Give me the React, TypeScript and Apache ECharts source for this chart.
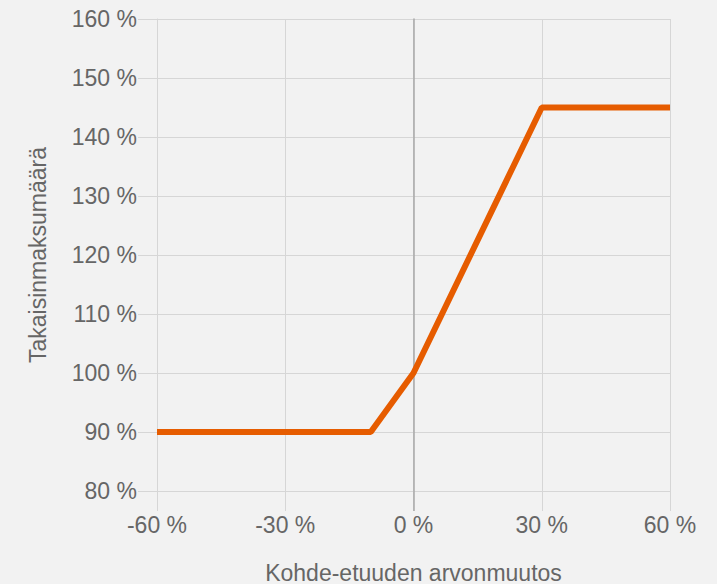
import React, { useEffect, useRef } from "react";
import * as echarts from "echarts";

const changeValues = [-60, -10, 0, 30, 60];
const payoutValues = [90, 90, 100, 145, 145];
const xTicks = { min: -60, max: 60, interval: 30 };
const yTicks = { min: 80, max: 160, interval: 10 };
const xName = "Kohde-etuuden arvonmuutos";
const yName = "Takaisinmaksumäärä";

const FONT = "'Liberation Sans', Arial, sans-serif";
const TEXT = "#666666";
const GRID = "#d6d6d6";
const ZERO = "#a8a8a8";

export default function App() {
  const ref = useRef<HTMLDivElement>(null);
  useEffect(() => {
    document.body.style.margin = "0";
    const chart = echarts.init(ref.current!, null, { renderer: "svg" });
    const pct = (v: number) => `${v} %`;
    chart.setOption({
      animation: false,
      backgroundColor: "#f2f2f2",
      textStyle: { fontFamily: FONT },
      grid: { left: 157, right: 47, top: 19, bottom: 93, outerBoundsMode: "none", containLabel: false },
      xAxis: [
        {
          type: "value",
          min: xTicks.min,
          max: xTicks.max,
          interval: xTicks.interval,
          name: xName,
          nameLocation: "middle",
          nameGap: 70,
          nameTextStyle: { color: TEXT, fontSize: 23, fontFamily: FONT },
          axisLine: { show: true, onZero: false, lineStyle: { color: GRID, width: 1 } },
          axisTick: { show: true, length: 20, lineStyle: { color: GRID, width: 1 } },
          axisLabel: { color: TEXT, fontSize: 23, margin: 22, formatter: pct, fontFamily: FONT },
          splitLine: { show: true, lineStyle: { color: GRID, width: 1 } },
        },
        {
          type: "value",
          position: "bottom",
          min: xTicks.min,
          max: xTicks.max,
          interval: xTicks.interval,
          axisLine: { show: false },
          axisLabel: { show: false },
          splitLine: { show: false },
          axisTick: { show: true, length: 20, customValues: [0], lineStyle: { color: ZERO, width: 1.5 } },
        },
      ],
      yAxis: [
        {
          type: "value",
          min: yTicks.min,
          max: yTicks.max,
          interval: yTicks.interval,
          name: yName,
          nameLocation: "middle",
          nameGap: 108,
          nameTextStyle: { color: TEXT, fontSize: 23, fontFamily: FONT },
          axisLine: { show: true, onZero: false, lineStyle: { color: GRID, width: 1 } },
          axisTick: { show: true, length: 19, lineStyle: { color: GRID, width: 1 } },
          axisLabel: { color: TEXT, fontSize: 23, margin: 20, formatter: pct, fontFamily: FONT },
          splitLine: { show: true, lineStyle: { color: GRID, width: 1 } },
        },
        {
          type: "value",
          min: yTicks.min,
          max: yTicks.max,
          interval: yTicks.interval,
          position: "left",
          axisLine: { show: true, onZero: true, onZeroAxisIndex: 0, lineStyle: { color: ZERO, width: 1.5 } },
          axisTick: { show: false },
          axisLabel: { show: false },
          splitLine: { show: false },
        },
      ],
      series: [
        {
          type: "line",
          data: changeValues.map((x, i) => [x, payoutValues[i]]),
          symbol: "none",
          lineStyle: { color: "#e65c00", width: 6 },
          z: 5,
        },
      ],
    });
    return () => chart.dispose();
  }, []);
  return <div ref={ref} style={{ width: 717, height: 584 }} />;
}
